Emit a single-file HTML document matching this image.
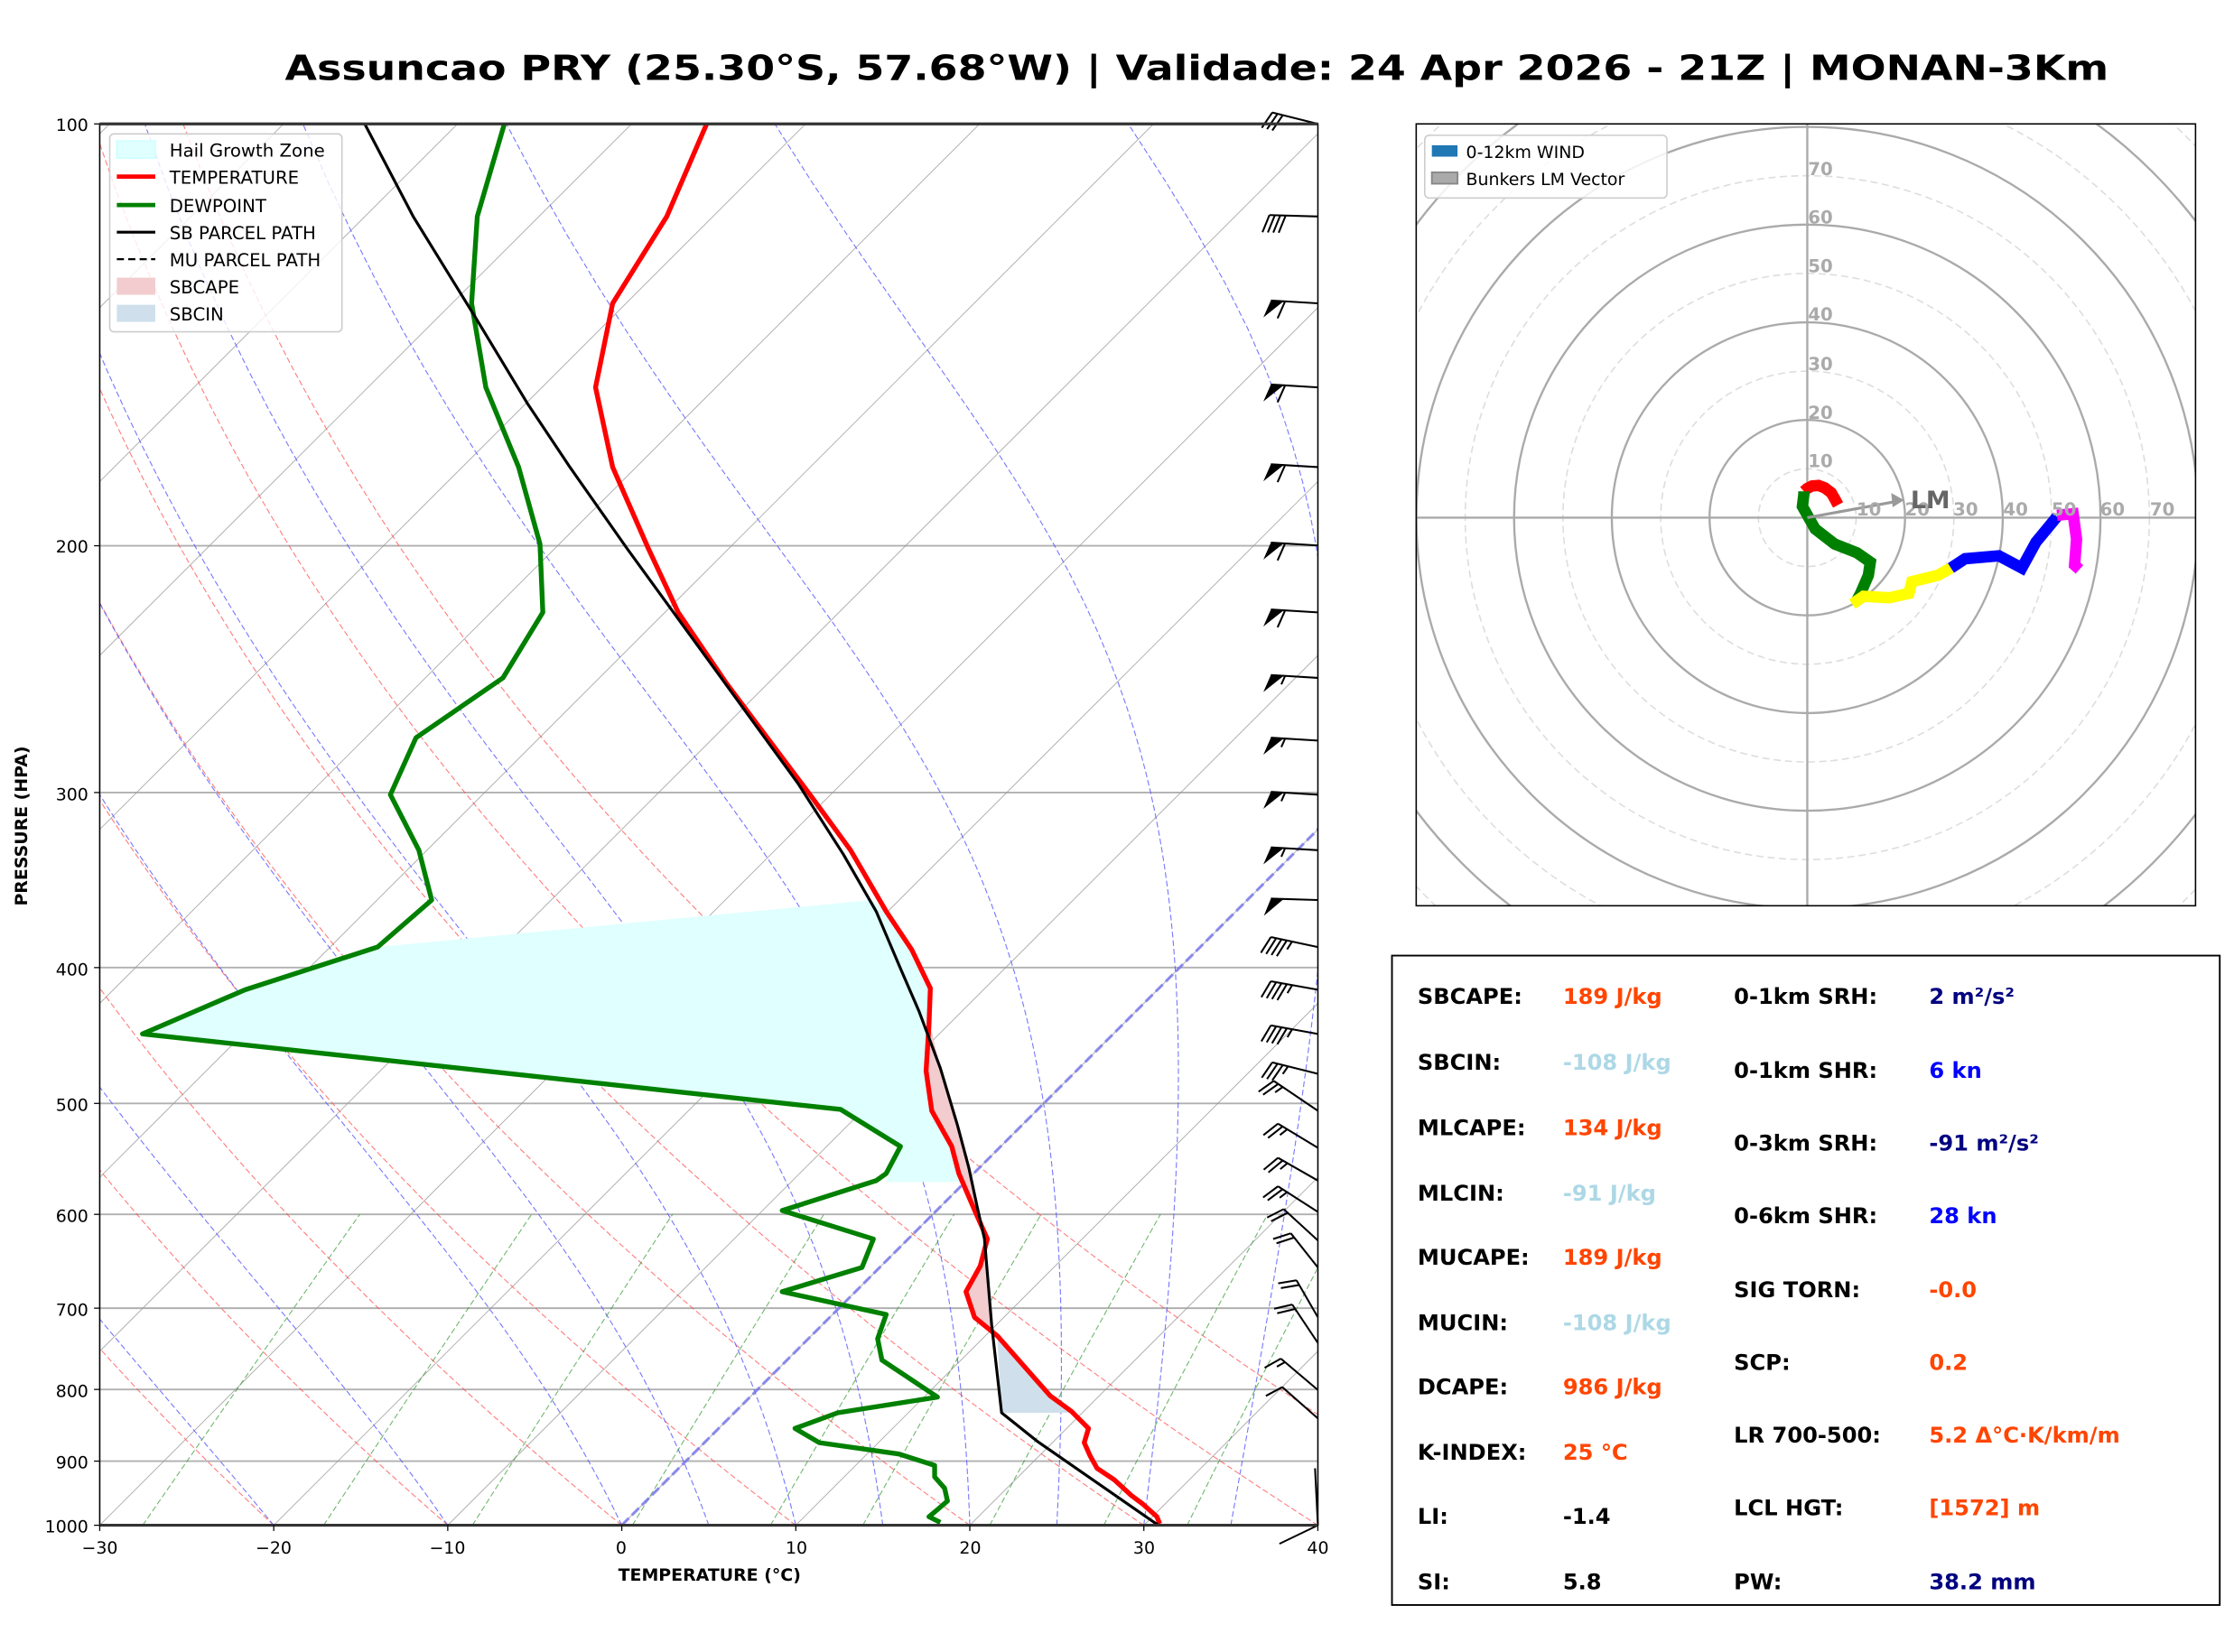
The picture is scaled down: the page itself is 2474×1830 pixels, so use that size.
<!DOCTYPE html>
<html><head><meta charset="utf-8"><style>
html,body{margin:0;padding:0;background:#fff}
svg{display:block}
text{font-family:"DejaVu Sans","Liberation Sans",sans-serif}
</style></head><body>
<svg id="s" xmlns="http://www.w3.org/2000/svg" width="2474" height="1830" viewBox="0 0 1568 1160" preserveAspectRatio="none">
<defs>
<clipPath id="ax"><rect x="70" y="87" width="855" height="984"/></clipPath>
<clipPath id="hx"><rect x="994" y="87" width="547" height="549"/></clipPath>
</defs>
<rect width="1568" height="1160" fill="#fff"/>
<text x="840" y="56" font-size="24.5" font-weight="bold" text-anchor="middle" textLength="1280" lengthAdjust="spacingAndGlyphs">Assuncao PRY (25.30°S, 57.68°W) | Validade: 24 Apr 2026 - 21Z | MONAN-3Km</text>
<g id="bg" clip-path="url(#ax)"></g>
<g id="fg" clip-path="url(#ax)"></g>
<g id="barbs"></g>
<rect x="70" y="87" width="855" height="984" fill="none" stroke="#000" stroke-width="1"/>
<line x1="70" y1="87" x2="925" y2="87" stroke="#333" stroke-width="2"/>
<line x1="70" y1="1071" x2="925" y2="1071" stroke="#333" stroke-width="2"/>
<g id="ticks" stroke="#000" stroke-width="0.8"></g>
<g font-size="12" text-anchor="end">
<text x="62" y="92">100</text><text x="62" y="388">200</text><text x="62" y="562">300</text><text x="62" y="685">400</text><text x="62" y="780">500</text><text x="62" y="858">600</text><text x="62" y="924">700</text><text x="62" y="981">800</text><text x="62" y="1031">900</text><text x="62" y="1076">1000</text>
</g>
<g font-size="12" text-anchor="middle">
<text x="70" y="1091">−30</text><text x="192" y="1091">−20</text><text x="314" y="1091">−10</text><text x="436" y="1091">0</text><text x="559" y="1091">10</text><text x="681" y="1091">20</text><text x="803" y="1091">30</text><text x="925" y="1091">40</text>
</g>
<text x="498" y="1110" font-size="12" font-weight="bold" text-anchor="middle">TEMPERATURE (°C)</text>
<text transform="translate(19,580) rotate(-90)" font-size="12" font-weight="bold" text-anchor="middle">PRESSURE (HPA)</text>
<rect x="77" y="94" width="163" height="139" rx="3" fill="#fff" fill-opacity="0.8" stroke="#ccc"/>
<rect x="82" y="99" width="27" height="12" fill="#e0ffff" stroke="#ccffff"/>
<line x1="82" y1="124" x2="109" y2="124" stroke="red" stroke-width="3"/>
<line x1="82" y1="144" x2="109" y2="144" stroke="green" stroke-width="3"/>
<line x1="82" y1="163" x2="109" y2="163" stroke="#000" stroke-width="2"/>
<line x1="82" y1="182" x2="109" y2="182" stroke="#000" stroke-width="1.5" stroke-dasharray="5,3"/>
<rect x="82" y="195" width="27" height="12" fill="#f2cccf"/>
<rect x="82" y="214" width="27" height="12" fill="#cfe0ec"/>
<g font-size="12.5"><text x="119" y="110">Hail Growth Zone</text><text x="119" y="129">TEMPERATURE</text><text x="119" y="149">DEWPOINT</text><text x="119" y="168">SB PARCEL PATH</text><text x="119" y="187">MU PARCEL PATH</text><text x="119" y="206">SBCAPE</text><text x="119" y="225">SBCIN</text></g>
<g id="hodo" clip-path="url(#hx)"></g>
<rect x="994" y="87" width="547" height="549" fill="none" stroke="#000" stroke-width="1"/>
<g font-size="12.5" font-weight="bold" fill="#aaa">
<text x="1269" y="328">10</text><text x="1269" y="294">20</text><text x="1269" y="260">30</text><text x="1269" y="225">40</text><text x="1269" y="191">50</text><text x="1269" y="157">60</text><text x="1269" y="123">70</text>
<text x="1303" y="362">10</text><text x="1337" y="362">20</text><text x="1371" y="362">30</text><text x="1406" y="362">40</text><text x="1440" y="362">50</text><text x="1474" y="362">60</text><text x="1509" y="362">70</text>
</g>
<text x="1341" y="357" font-size="17" font-weight="bold" fill="#666">LM</text>
<rect x="1000" y="95" width="170" height="44" rx="3" fill="#fff" fill-opacity="0.85" stroke="#ccc"/>
<rect x="1005" y="102" width="18" height="8" fill="#1f77b4"/>
<rect x="1005" y="121" width="18" height="8" fill="#aaa" stroke="#888" stroke-width="1.2"/>
<g font-size="12"><text x="1029" y="111">0-12km WIND</text><text x="1029" y="130">Bunkers LM Vector</text></g>
<rect x="977" y="671" width="581" height="456" fill="#fff" stroke="#000" stroke-width="1.2"/>
<g font-size="15.3" font-weight="bold">
<text x="995" y="705">SBCAPE:</text><text x="1097" y="705" fill="#ff4500">189 J/kg</text>
<text x="995" y="751">SBCIN:</text><text x="1097" y="751" fill="#add8e6">-108 J/kg</text>
<text x="995" y="797">MLCAPE:</text><text x="1097" y="797" fill="#ff4500">134 J/kg</text>
<text x="995" y="843">MLCIN:</text><text x="1097" y="843" fill="#add8e6">-91 J/kg</text>
<text x="995" y="888">MUCAPE:</text><text x="1097" y="888" fill="#ff4500">189 J/kg</text>
<text x="995" y="934">MUCIN:</text><text x="1097" y="934" fill="#add8e6">-108 J/kg</text>
<text x="995" y="979">DCAPE:</text><text x="1097" y="979" fill="#ff4500">986 J/kg</text>
<text x="995" y="1025">K-INDEX:</text><text x="1097" y="1025" fill="#ff4500">25 °C</text>
<text x="995" y="1070">LI:</text><text x="1097" y="1070">-1.4</text>
<text x="995" y="1116">SI:</text><text x="1097" y="1116">5.8</text>
<text x="1217" y="705">0-1km SRH:</text><text x="1354" y="705" fill="#000080">2 m²/s²</text>
<text x="1217" y="757">0-1km SHR:</text><text x="1354" y="757" fill="#0000ff">6 kn</text>
<text x="1217" y="808">0-3km SRH:</text><text x="1354" y="808" fill="#000080">-91 m²/s²</text>
<text x="1217" y="859">0-6km SHR:</text><text x="1354" y="859" fill="#0000ff">28 kn</text>
<text x="1217" y="911">SIG TORN:</text><text x="1354" y="911" fill="#ff4500">-0.0</text>
<text x="1217" y="962">SCP:</text><text x="1354" y="962" fill="#ff4500">0.2</text>
<text x="1217" y="1013">LR 700-500:</text><text x="1354" y="1013" fill="#ff4500">5.2 Δ°C·K/km/m</text>
<text x="1217" y="1064">LCL HGT:</text><text x="1354" y="1064" fill="#ff4500">[1572] m</text>
<text x="1217" y="1116">PW:</text><text x="1354" y="1116" fill="#000080">38.2 mm</text>
</g>
</svg>
<script>
(function(){
var NS="http://www.w3.org/2000/svg";
function el(p,t,a){var e=document.createElementNS(NS,t);for(var k in a)e.setAttribute(k,a[k]);p.appendChild(e);return e;}
function Y(p){return 87+984*Math.log10(p/100);}
function X(T,p){return 436.4+12.214*T+(1071-Y(p));}
var bg=document.getElementById('bg'),fg=document.getElementById('fg');
function path(g,pts,a){var d='';pts.forEach(function(q,i){d+=(i?'L':'M')+q[0].toFixed(2)+','+q[1].toFixed(2);});a.d=d;a.fill=a.fill||'none';return el(g,'path',a);}
[100,200,300,400,500,600,700,800,900,1000].forEach(function(p){el(bg,'line',{x1:70,x2:925,y1:Y(p),y2:Y(p),stroke:'#b0b0b0','stroke-width':1.2});});
for(var T=-160;T<=40;T+=10){el(bg,'line',{x1:X(T,1050),y1:Y(1050),x2:X(T,90),y2:Y(90),stroke:'#999','stroke-width':0.6,'stroke-opacity':0.8});}
var ps=[];for(var p=1000;p>=100;p-=10)ps.push(p);
for(var t0=-40;t0<=50;t0+=10){var th=t0+273.15;path(bg,ps.map(function(p){return [X(th*Math.pow(p/1000,0.2857)-273.15,p),Y(p)];}),{stroke:'#ff4444','stroke-width':0.7,'stroke-dasharray':'4,2','stroke-opacity':0.7});}
function es(Tc){return 6.112*Math.exp(17.67*Tc/(Tc+243.5));}
[-20,-10,0,5,10,15,20,25,30,35].forEach(function(t0){var T=t0+273.15,pts=[],p=1000;pts.push([X(t0,p),Y(p)]);while(p>100){var dp=-2;var e=es(T-273.15),rs=0.622*e/(p-e);var dTdp=(287*T+2.5e6*rs)/(1005+2.5e6*2.5e6*rs*0.622/(287*T*T))/p;T+=dTdp*dp;p+=dp;if(Math.round(p)%10==0)pts.push([X(T-273.15,p),Y(p)]);}
path(bg,pts,{stroke:'#5555ff','stroke-width':0.7,'stroke-dasharray':'4,2','stroke-opacity':0.8});});
[0.0004,0.001,0.002,0.004,0.007,0.01,0.016,0.024,0.032].forEach(function(w){var pts=[];for(var p=1000;p>=600;p-=20){var e=p*w/(0.622+w),l=Math.log(e/6.112),Td=243.5*l/(17.67-l);pts.push([X(Td,p),Y(p)]);}path(bg,pts,{stroke:'#339933','stroke-width':0.7,'stroke-dasharray':'4,2','stroke-opacity':0.7});});
el(bg,'line',{x1:X(0,1000),y1:Y(1000),x2:X(0,100),y2:Y(100),stroke:'#7777ee','stroke-width':2,'stroke-dasharray':'7,3','stroke-opacity':0.8});
var temp=[[496,87],[468,152],[430,213],[418,272],[430,328],[455,385],[476,430],[510,480],[540,520],[570,560],[597,597],[622,640],[640,667],[653,694],[652,720],[650,752],[654,780],[668,805],[673,824],[685,852],[693,870],[688,889],[678,907],[684,925],[700,938],[737,980],[752,991],[764,1003],[761,1013],[765,1022],[770,1031],[782,1039],[794,1050],[802,1056],[812,1065],[814,1070]];
var dew=[[354,87],[335,152],[331,213],[341,272],[364,328],[379,382],[381,430],[353,476],[292,518],[274,558],[294,597],[303,632],[265,665],[172,695],[100,726],[590,779],[632,805],[622,824],[615,829],[549,850],[613,870],[605,890],[549,907],[622,923],[616,940],[619,955],[658,981],[588,992],[558,1003],[575,1013],[631,1021],[656,1029],[656,1037],[663,1045],[665,1054],[658,1060],[652,1065],[660,1069]];
var parc=[[256,87],[290,152],[335,225],[370,283],[400,328],[440,385],[480,440],[520,495],[560,550],[592,600],[615,640],[632,680],[645,710],[660,750],[672,790],[680,820],[686,848],[691,870],[696,930],[703,992],[728,1012],[813,1071]];
path(fg,[[265,665],[612,632],[622,640],[640,667],[653,694],[652,720],[650,752],[654,780],[668,805],[676,830],[622,830],[632,805],[590,779],[100,726],[172,695],[265,665]],{fill:'#e0ffff',stroke:'none'});
path(fg,[[652,716],[660,750],[672,790],[680,820],[686,848],[691,870],[696,930],[700,938],[684,925],[678,907],[688,889],[693,870],[685,852],[673,824],[668,805],[654,780],[650,752],[652,716]],{fill:'#f2cccf',stroke:'none'});
path(fg,[[700,940],[703,992],[752,992],[737,980],[700,940]],{fill:'#cfe0ec',stroke:'none'});
path(fg,dew,{stroke:'green','stroke-width':3.4,'stroke-linejoin':'round'});
path(fg,temp,{stroke:'red','stroke-width':3.4,'stroke-linejoin':'round'});
path(fg,parc,{stroke:'#000','stroke-width':2,'stroke-linejoin':'round'});
var tk=document.getElementById('ticks');
[100,200,300,400,500,600,700,800,900,1000].forEach(function(p){el(tk,'line',{x1:66,x2:70,y1:Y(p),y2:Y(p)});});
for(var i=0;i<8;i++){var x=70+i*122.14;el(tk,'line',{x1:x,x2:x,y1:1071,y2:1075});}
var bb=document.getElementById('barbs');
function barb(y,dx,dy,code){var x0=925,L=Math.hypot(dx,dy),d=[dx/L,dy/L],n=[d[1],-d[0]];var tx=x0+dx,ty=y+dy;
el(bb,'line',{x1:x0,y1:y,x2:tx,y2:ty,stroke:'#000','stroke-width':1.3});
var b=[n[0]*0.94+d[0]*0.35,n[1]*0.94+d[1]*0.35],bl=13,pos=0;
code.split('').forEach(function(c){var px=tx-d[0]*pos,py=ty-d[1]*pos;
if(c=='P'){el(bb,'polygon',{points:px+','+py+' '+(px+b[0]*bl)+','+(py+b[1]*bl)+' '+(px-d[0]*9)+','+(py-d[1]*9),fill:'#000'});pos+=10;}
else{var k=c=='F'?bl:bl/2;if(c=='H'&&pos==0){pos=3.5;px=tx-d[0]*pos;py=ty-d[1]*pos;}el(bb,'line',{x1:px,y1:py,x2:px+b[0]*k,y2:py+b[1]*k,stroke:'#000','stroke-width':1.3});pos+=3.8;}});}
barb(87,-32,-8,'FFF');barb(152,-34,-1,'FFFF');
[213,272,328,383,430].forEach(function(y){barb(y,-33,-2,'PF');});
[476,520,558,597].forEach(function(y){barb(y,-33,-2,'PH');});
barb(632,-33,-1,'P');
[[665,-33,-7,'FFFFH'],[695,-33,-6,'FFFFH'],[726,-33,-6,'FFFFH'],[754,-32,-8,'FFFH'],[780,-31,-21,'FFH'],[806,-28,-17,'FFH'],[829,-28,-16,'FFH'],[851,-28,-18,'FFH'],[871,-24,-22,'FF'],[890,-19,-24,'FF'],[925,-15,-26,'FF'],[943,-18,-27,'FF'],[976,-26,-22,'FH'],[996,-25,-22,'F'],[1071,-2,-40,'']].forEach(function(a){barb(a[0],a[1],a[2],a[3]);});
el(bb,'line',{x1:925,y1:1071,x2:898,y2:1084,stroke:'#000','stroke-width':1.2});
var h=document.getElementById('hodo'),cx=1268.5,cy=363.5,k=3.43;
for(var r=10;r<=110;r+=10){el(h,'circle',{cx:cx,cy:cy,r:r*k,fill:'none',stroke:r%20?'#ddd':'#aaa','stroke-width':r%20?1:1.5,'stroke-dasharray':r%20?'5,3':'none'});}
el(h,'line',{x1:994,x2:1541,y1:cy,y2:cy,stroke:'#aaa','stroke-width':1.5});
el(h,'line',{x1:cx,x2:cx,y1:87,y2:636,stroke:'#aaa','stroke-width':1.5});
function hp(a){return a.map(function(q){return [cx+q[0]*k,cy-q[1]*k];});}
var segs=[['red',[[6.3,2.6],[5.6,3.9],[4.9,5.1],[3.6,6.1],[2.3,6.6],[1,6.5],[0,6],[-0.7,5.4]]],['green',[[-0.7,5.4],[-0.7,4.8],[-1,2.3],[1.6,-2.3],[5.6,-5.4],[10.2,-7.2],[12.9,-9.1],[12.5,-11.8],[10.9,-15.5],[9.9,-17.4]]],['yellow',[[9.2,-17.7],[11.5,-16.1],[16.8,-16.4],[20.8,-15.5],[21.4,-13.1],[26.7,-11.8],[29.4,-10.3]]],['blue',[[29.4,-10.3],[32.3,-8.4],[39.2,-7.8],[43.9,-10.3],[46.8,-5],[51.1,0.2]]],['magenta',[[51.1,0.5],[54.4,0.8],[55.1,-4.4],[54.7,-9.7],[55.7,-10.6]]]];
segs.forEach(function(s){path(h,hp(s[1]),{stroke:s[0],'stroke-width':8,'stroke-linejoin':'miter'});});
var lm=hp([[0,0],[17.5,3.2]]);el(h,'line',{x1:lm[0][0],y1:lm[0][1],x2:lm[1][0],y2:lm[1][1],stroke:'#999','stroke-width':2});
var t=hp([[19.8,3.6]])[0];el(h,'polygon',{points:(t[0])+','+t[1]+' '+(t[0]-9)+','+(t[1]-5)+' '+(t[0]-8)+','+(t[1]+5),fill:'#999'});
})();
</script>
</body></html>
